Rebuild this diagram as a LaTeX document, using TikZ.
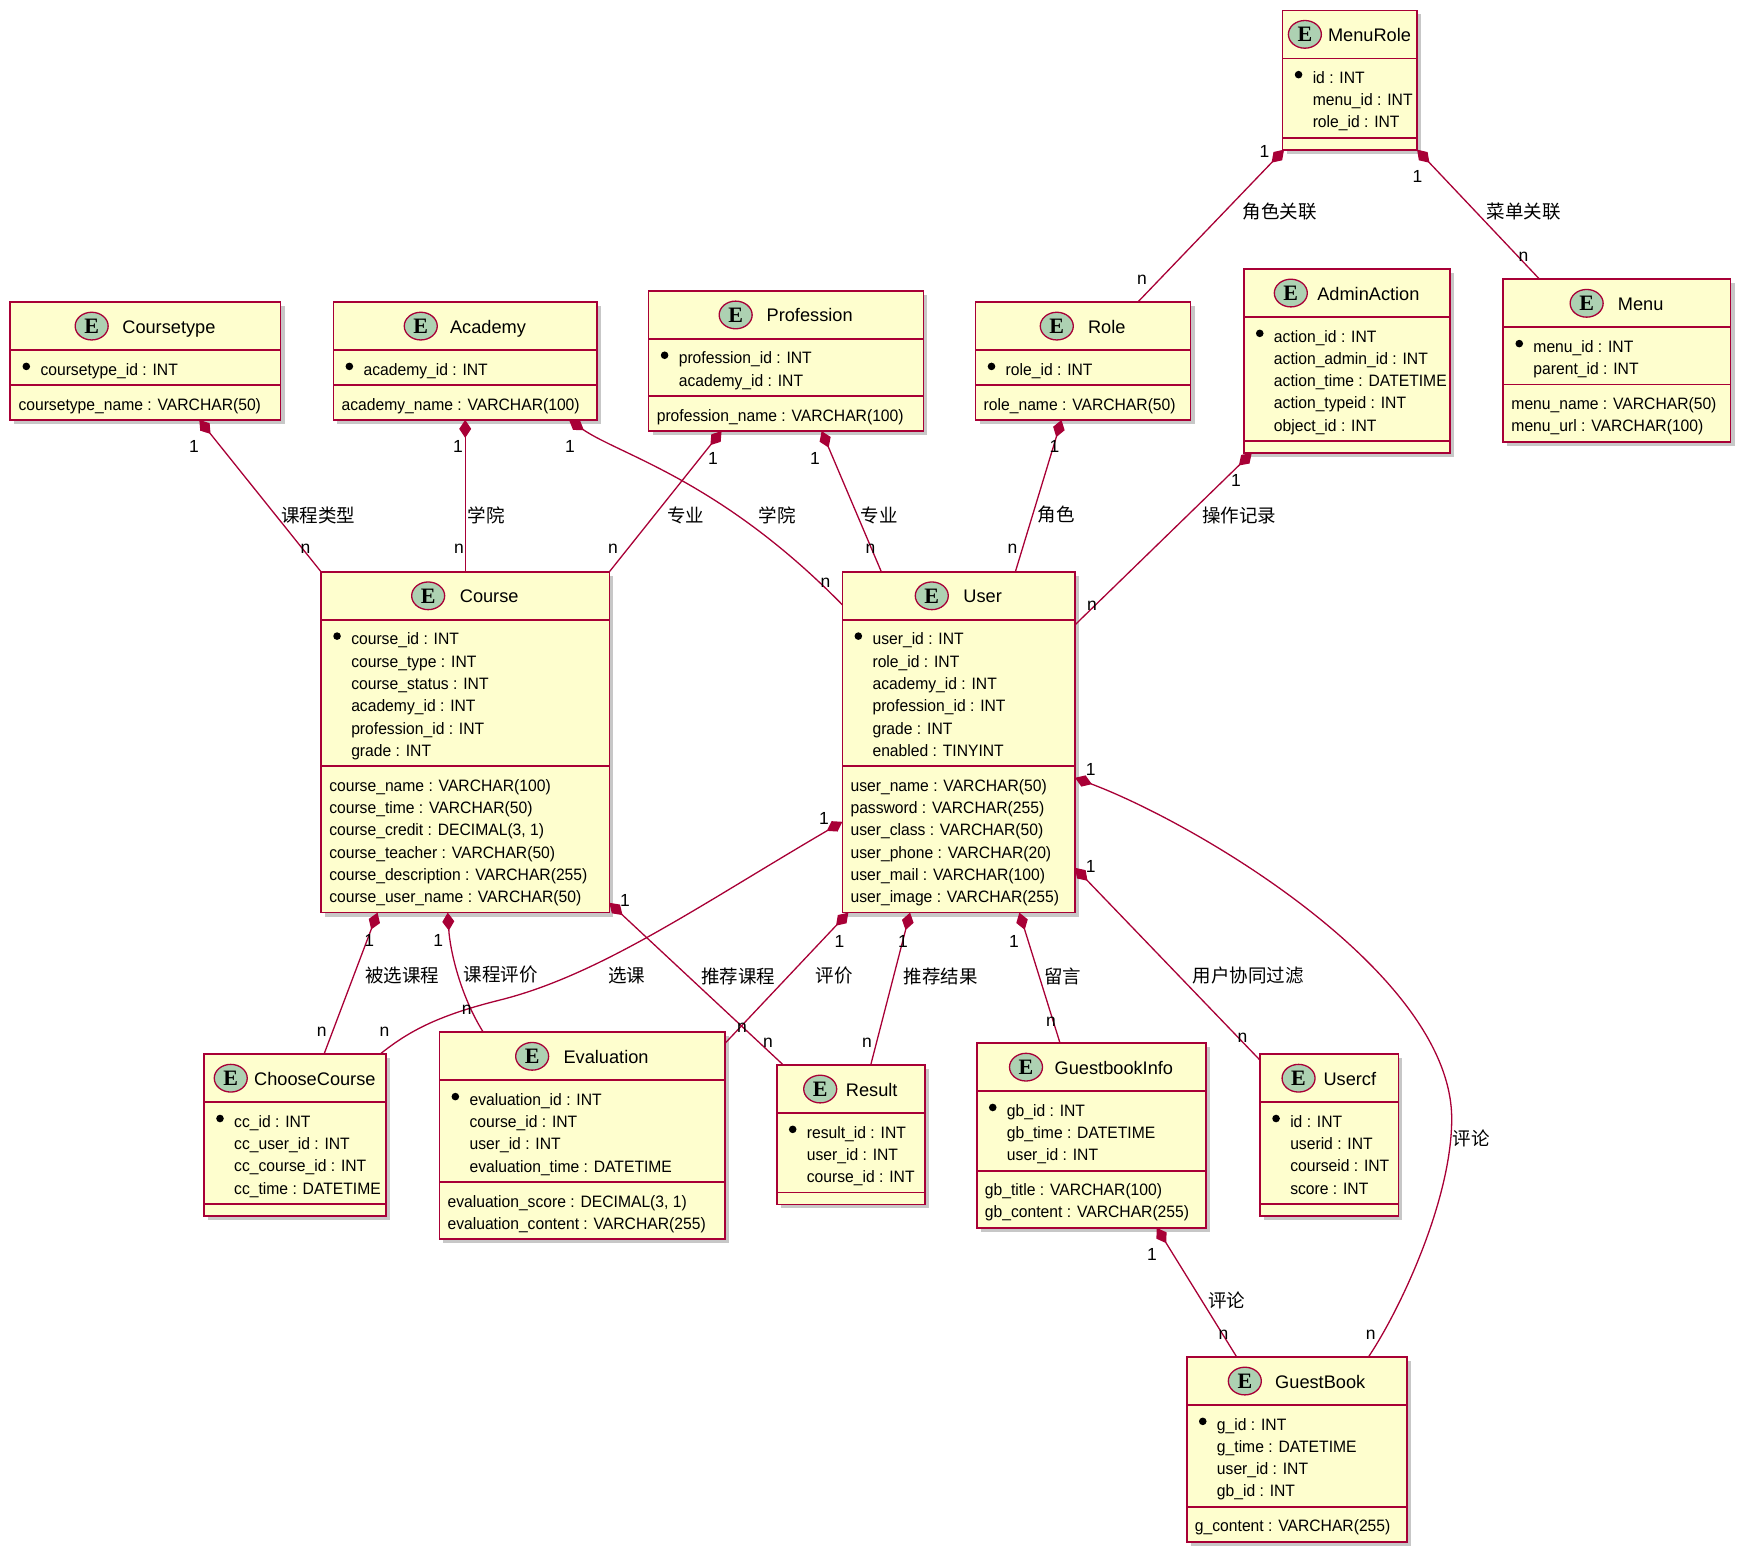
\documentclass[tikz,border=0pt]{standalone}
\usepackage{fontspec}
\setmainfont{Liberation Sans}
\newfontfamily\rowfont{Liberation Sans}[FakeStretch=0.95]
\newfontfamily\cjkfont{Noto Sans CJK SC}
\newfontfamily\circfont{Liberation Serif}
\usepackage{xcolor}
\usetikzlibrary{calc,shapes,shadows,arrows.meta}

\definecolor{erborder}{HTML}{A80036}
\definecolor{erfill}{HTML}{FEFECE}
\definecolor{ercircle}{HTML}{ADD1B2}

% #1 name, #2 centre, #3 width, #4 title,
% #5 key rows, #6 how many, #7 other rows, #8 how many,
% #9 gap between circle and title
\newcommand{\erentity}[9]{%
  \pgfmathsetmacro{\secA}{12.6+22.3*#6}%
  \pgfmathsetmacro{\secB}{#8>0 ? 12.6+22.3*#8 : 11.8}%
  \pgfmathsetmacro{\entH}{48+\secA+\secB}%
  \pgfmathsetmacro{\titleX}{(33+#9)/2}%
  \pgfmathsetmacro{\circX}{-16.5-#9}%
  \node[entity, minimum width=#3pt, minimum height=\entH pt] (#1) at #2 {};
  \draw[sepline] ($(#1.north west)+(0,48)$) -- ($(#1.north east)+(0,48)$);
  \draw[sepline] ($(#1.north west)+(0,48+\secA)$)
    -- ($(#1.north east)+(0,48+\secA)$);
  \node[etitle] (#1-title) at ($(#1.north)+(\titleX,31)$) {#4};
  \node[ecircle] (#1-circle)
    at ($(#1-title.base west |- #1.north)+(\circX,24)$) {E};
  \fill ($(#1.north west)+(16,64.3)$) circle (3.8);
  \foreach \attr [count=\i] in {#5}
    \node[erow] at ($(#1.north west)+(30,50.7+22.3*\i)$) {\attr};
  \ifnum#8>0\relax
  \foreach \attr [count=\i] in {#7}
    \node[erow] at ($(#1.north west)+(8,50.7+\secA+22.3*\i)$) {\attr};
  \fi
}

\begin{document}
\begin{tikzpicture}[x=1pt, y=-1pt]
  \tikzstyle{entity}
    =[draw=erborder, fill=erfill, rectangle, line width=1.7pt,
    inner sep=0, outer sep=0,
    drop shadow={shadow xshift=4pt, shadow yshift=-4pt,
    fill=black, opacity=0.22}]
  \tikzstyle{sepline}
    =[draw=erborder, line width=1.7pt]
  \tikzstyle{etitle}
    =[anchor=base, inner sep=0, font=\fontsize{18.2}{20}\selectfont]
  \tikzstyle{ecircle}
    =[ellipse, draw=erborder, fill=ercircle, line width=1.3pt,
    minimum width=33pt, minimum height=27.7pt, inner sep=0,
    font=\circfont\bfseries\fontsize{22}{22}\selectfont]
  \tikzstyle{erow}
    =[anchor=base west, inner sep=0,
    font=\rowfont\fontsize{16.5}{20}\selectfont]
  \tikzstyle{rel}
    =[draw=erborder, line width=1.3pt,
    -{Diamond[length=18pt, width=12pt]}]
  \tikzstyle{mult}
    =[inner sep=0, font=\fontsize{17.5}{20}\selectfont]
  \tikzstyle{relname}
    =[inner sep=0, font=\cjkfont\fontsize{18.5}{20}\selectfont]

  \useasboundingbox (0,0) rectangle (1749,1561);

  % top row
  \erentity{menurole}{(1349.8,80)}{134.5}{MenuRole}
    {id : INT, menu\_id : INT, role\_id : INT}{3}{}{0}{6.5}
  \erentity{coursetype}{(145.4,361)}{270.2}{Coursetype}
    {coursetype\_id : INT}{1}{coursetype\_name : VARCHAR(50)}{1}{14}
  \erentity{academy}{(465.2,361)}{263.7}{Academy}
    {academy\_id : INT}{1}{academy\_name : VARCHAR(100)}{1}{12.6}
  \erentity{profession}{(786,361)}{274.8}{Profession}
    {profession\_id : INT, academy\_id : INT}{2}
    {profession\_name : VARCHAR(100)}{1}{14.3}
  \erentity{role}{(1083,361)}{215}{Role}
    {role\_id : INT}{1}{role\_name : VARCHAR(50)}{1}{14.6}
  \erentity{adminaction}{(1347,361)}{206.5}{AdminAction}
    {action\_id : INT, action\_admin\_id : INT, action\_time : DATETIME,
    action\_typeid : INT, object\_id : INT}{5}{}{0}{9.8}
  \erentity{menu}{(1616.9,360.5)}{227.3}{Menu}
    {menu\_id : INT, parent\_id : INT}{2}
    {menu\_name : VARCHAR(50), menu\_url : VARCHAR(100)}{2}{14.6}

  % middle row
  \erentity{course}{(465.2,742.2)}{288.3}{Course}
    {course\_id : INT, course\_type : INT, course\_status : INT,
    academy\_id : INT, profession\_id : INT, grade : INT}{6}
    {course\_name : VARCHAR(100), course\_time : VARCHAR(50),
    {course\_credit : DECIMAL(3, 1)}, course\_teacher : VARCHAR(50),
    course\_description : VARCHAR(255),
    course\_user\_name : VARCHAR(50)}{6}{15}
  \erentity{user}{(958.7,742.2)}{232.7}{User}
    {user\_id : INT, role\_id : INT, academy\_id : INT,
    profession\_id : INT, grade : INT, enabled : TINYINT}{6}
    {user\_name : VARCHAR(50), password : VARCHAR(255),
    user\_class : VARCHAR(50), user\_phone : VARCHAR(20),
    user\_mail : VARCHAR(100), user\_image : VARCHAR(255)}{6}{15}

  % bottom row
  \erentity{choosecourse}{(295,1135)}{182}{ChooseCourse}
    {cc\_id : INT, cc\_user\_id : INT, cc\_course\_id : INT,
    cc\_time : DATETIME}{4}{}{0}{6.7}
  \erentity{evaluation}{(582.2,1135.8)}{285.7}{Evaluation}
    {evaluation\_id : INT, course\_id : INT, user\_id : INT,
    evaluation\_time : DATETIME}{4}
    {{evaluation\_score : DECIMAL(3, 1)},
    evaluation\_content : VARCHAR(255)}{2}{14.7}
  \erentity{result}{(850.7,1134.7)}{148}{Result}
    {result\_id : INT, user\_id : INT, course\_id : INT}{3}{}{0}{9}
  \erentity{guestbookinfo}{(1091.4,1135.5)}{229.3}{GuestbookInfo}
    {gb\_id : INT, gb\_time : DATETIME, user\_id : INT}{3}
    {gb\_title : VARCHAR(100), gb\_content : VARCHAR(255)}{2}{12}
  \erentity{usercf}{(1329.2,1135)}{138.3}{Usercf}
    {id : INT, userid : INT, courseid : INT, score : INT}{4}{}{0}{8.3}
  \erentity{guestbook}{(1296.9,1449.4)}{220.3}{GuestBook}
    {g\_id : INT, g\_time : DATETIME, user\_id : INT, gb\_id : INT}{4}
    {g\_content : VARCHAR(255)}{1}{13.7}

  % relations, diamond on the "1" side
  \draw[rel] (course.north west) -- ($(coursetype.south west)+(189,0)$);
  \draw[rel] (course.north) -- (academy.south);
  \draw[rel] ($(user.north west)+(0,33)$)
    .. controls (720,480) and (620,455) .. ($(academy.south east)+(-28,0)$);
  \draw[rel] (course.north east) -- ($(profession.south west)+(73,0)$);
  \draw[rel] ($(user.north west)+(39,0)$) -- ($(profession.south west)+(173,0)$);
  \draw[rel] ($(user.north west)+(173,0)$) -- ($(role.south west)+(86,0)$);
  \draw[rel] ($(user.north east)+(0,53)$) -- ($(adminaction.south west)+(8,0)$);
  \draw[rel] ($(role.north west)+(162.3,0)$) -- ($(menurole.south west)+(1.5,0)$);
  \draw[rel] ($(menu.north west)+(36.4,0)$) -- (menurole.south east);
  \draw[rel] ($(choosecourse.north east)+(-6,0)$)
    .. controls (410,1030) and (440,1015) .. (500,1000)
    .. controls (600,975) and (700,905) .. ($(user.north west)+(0,250)$);
  \draw[rel] ($(result.north west)+(6.7,0)$) -- ($(course.north east)+(0,331)$);
  \draw[rel] ($(evaluation.north east)+(0,11)$) -- ($(user.south west)+(6,0)$);
  \draw[rel] ($(choosecourse.north west)+(120,0)$)
    -- ($(course.south west)+(56.5,0)$);
  \draw[rel] ($(evaluation.north west)+(44,0)$)
    .. controls (460,995) and (450,950) .. ($(course.south west)+(126.7,0)$);
  \draw[rel] ($(result.north west)+(94,0)$) -- ($(user.south west)+(67.7,0)$);
  \draw[rel] ($(guestbookinfo.north west)+(83.3,0)$)
    -- ($(user.south west)+(177,0)$);
  \draw[rel] ($(usercf.north west)+(0,6)$) -- ($(user.north east)+(0,296)$);
  \draw[rel] ($(guestbook.north west)+(181.6,0)$)
    .. controls (1400,1310) and (1451.7,1200) .. (1451.7,1119)
    .. controls (1452,975) and (1200,825) .. ($(user.north east)+(0,206)$);
  \draw[rel] ($(guestbook.north west)+(50,0)$)
    -- ($(guestbookinfo.south west)+(180,0)$);

  % multiplicities
  \foreach \x/\y/\m [count=\k] in {194/446/1, 305.5/549/n, 458/446/1,
    459/549/n, 570/446/1, 825.5/583/n, 713/458/1, 613/549/n,
    815/458/1, 870.5/549/n, 1054.6/446/1, 1012.5/549/n,
    1236/480/1, 1092/606/n, 1264.5/151/1, 1142/280/n,
    1417.5/176/1, 1523.6/257/n, 824/818/1, 384.5/1032/n,
    625/900/1, 768/1043/n, 839.5/941.5/1, 742/1027.5/n,
    369.3/940.5/1, 321.7/1032/n, 438.3/940.5/1, 466.7/1010/n,
    903/941.5/1, 867/1043/n, 1014/941.5/1, 1051/1021.7/n,
    1090.7/866/1, 1242.5/1038/n, 1090.7/769/1, 1370.8/1334.7/n,
    1152/1254.7/1, 1223.5/1334.7/n}
    \node[mult] (mult-\k) at (\x,\y) {\m};

  % relation names
  \foreach \x/\y/\t [count=\k] in {318/515/课程类型, 486/515/学院,
    777/515/学院, 685.5/515/专业, 879/515/专业, 1056/515/角色,
    1239/515/操作记录, 1279.7/212/角色关联, 1523.6/212/菜单关联,
    626.7/975/选课, 738/976/推荐课程, 834.3/976/评价,
    402/975/被选课程, 500.8/975/课程评价, 940.5/976/推荐结果,
    1062.5/976/留言, 1248/975/用户协同过滤, 1471/1138.4/评论,
    1226.7/1300.8/评论}
    \node[relname] (relname-\k) at (\x,\y) {\t};
\end{tikzpicture}
\end{document}
